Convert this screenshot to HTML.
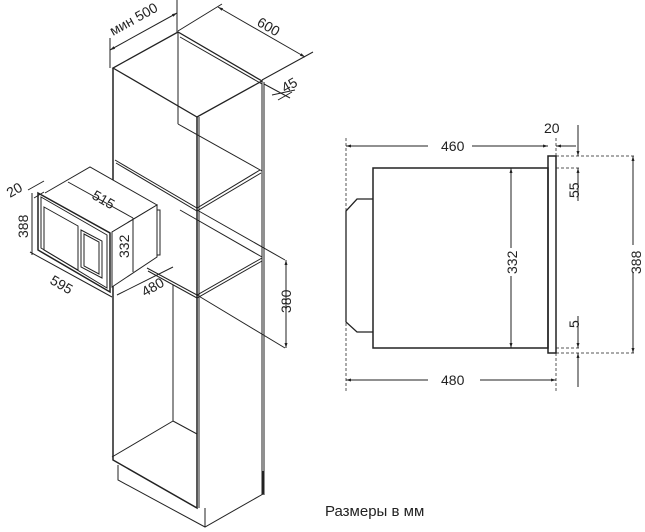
<!DOCTYPE html>
<html><head><meta charset="utf-8"><style>
html,body{margin:0;padding:0;background:#fff;}
svg{display:block;}
text{font-family:"Liberation Sans",sans-serif;fill:#222;}
</style></head><body>
<svg width="645" height="532" viewBox="0 0 645 532" xmlns="http://www.w3.org/2000/svg">
<defs>
<marker id="a" viewBox="0 0 10 10" refX="10" refY="5" markerWidth="7" markerHeight="5" orient="auto-start-reverse"><path d="M0,2 L10,5 L0,8 z" fill="#222"/></marker>
</defs>
<g stroke="#222" fill="none" stroke-width="1">
<path d="M113,68 L197,117 L262,81 L178,32 Z" stroke-width="1.3"/>
<path d="M180,37 L262,84"/>
<path d="M113,68 V460 L197,508 V117" stroke-width="1.5"/>
<path d="M199,117 V508"/>
<path d="M262,81 V495"/><path d="M264,82 V495"/>
<path d="M178,32 V124"/>
<path d="M115,160 L197,208 L260,170 M116,163 L197,211 L261,173"/>
<path d="M178,124 L262,171"/>
<path d="M180,210 L262,257"/>
<path d="M197,210 L285,260"/>
<path d="M147,268 L197,295 L262,258 M148,271 L197,298 L262,261"/>
<path d="M197,295 L285,348"/>
<path d="M173,285 V421 L112,457 M173,421 L197,434"/>
<path d="M118,465 V480 L205,527 L263,494 V471 M205,508 V527"/>
<path d="M110,38 V68 M177,0 V32"/>
<path d="M110,50 L177,13" marker-start="url(#a)" marker-end="url(#a)"/>
<path d="M178,31 L222,4 M262,80 L313,52"/>
<path d="M218,7 L305,57" marker-start="url(#a)" marker-end="url(#a)"/>
<path d="M264,84 L290,98 M272,95 L295,90"/>
<path d="M278,100 L292,92"/>
<path d="M286,260 V348" marker-start="url(#a)" marker-end="url(#a)"/>
<path d="M45,193 L90,167 L157,205 L112,232" fill="#fff"/>
<path d="M112,232 L157,205 V257 L112,287 Z" fill="#fff"/>
<path d="M157,210 H160 V255 H157"/>
<path d="M38,193 L110,233 V292 L38,250 Z" fill="#fff" stroke-width="1.5"/>
<path d="M41,197 L107,235 V288 L41,248 Z"/>
<path d="M44,207 L78,226 V270 L44,250 Z"/>
<path d="M81,230 L102,241 V278 L81,267 Z"/>
<path d="M84,234 L99,242 V274 L84,266 Z"/>
<path d="M133,218 V272"/>
<path d="M68,182 L133,218"/>
<path d="M28,190 L44,181 M34,198 L44,192"/>
<path d="M32,193 V255"/>
<path d="M30,252 L112,297"/>
<path d="M117,295 L173,267"/>
<path d="M346,138 V392 M556,138 V392 M556,156 H636 M556,168 H580 M556,348 H580 M556,353 H636" stroke-dasharray="3,2" stroke="#555"/>
<rect x="373" y="168" width="175" height="180" stroke-width="1.5"/>
<rect x="548" y="156" width="8" height="197" stroke-width="1.5"/>
<path d="M373,199 H357 L346,211 V322 L357,332 H373" stroke-width="1.3"/>
<path d="M346,146 H428 M472,146 H548"/><path d="M360,146 H346" marker-end="url(#a)"/>
<path d="M536,146 H548" marker-end="url(#a)"/><path d="M576,146 H556" marker-end="url(#a)"/>
<path d="M511,168 V248 M511,276 V348"/><path d="M511,180 V168" marker-end="url(#a)"/><path d="M511,336 V348" marker-end="url(#a)"/>
<path d="M346,380 H428 M480,380 H556"/><path d="M360,380 H346" marker-end="url(#a)"/><path d="M542,380 H556" marker-end="url(#a)"/>
<path d="M578,125 V156 M578,168 V201"/><path d="M578,145 V156" marker-end="url(#a)"/><path d="M578,180 V168" marker-end="url(#a)"/>
<path d="M578,316 V348 M578,353 V387"/><path d="M578,337 V348" marker-end="url(#a)"/><path d="M578,365 V353" marker-end="url(#a)"/>
<path d="M633,156 V245 M633,272 V353"/><path d="M633,170 V156" marker-end="url(#a)"/><path d="M633,340 V353" marker-end="url(#a)"/>
</g>
<g font-size="14">
<text x="113" y="36" transform="rotate(-29 113 36)">мин 500</text>
<text x="256" y="25" transform="rotate(30 256 25)">600</text>
<text x="285" y="93" transform="rotate(-30 285 93)">45</text>
<text x="91" y="198" transform="rotate(30 91 198)">515</text>
<text x="10" y="198" transform="rotate(-30 10 198)">20</text>
<text x="28" y="238" transform="rotate(-90 28 238)">388</text>
<text x="129" y="258" transform="rotate(-90 129 258)">332</text>
<text x="49" y="283" transform="rotate(30 49 283)">595</text>
<text x="145" y="297" transform="rotate(-30 145 297)">480</text>
<text x="291" y="313" transform="rotate(-90 291 313)">380</text>
<text x="441" y="151">460</text>
<text x="544" y="133">20</text>
<text x="517" y="274" transform="rotate(-90 517 274)">332</text>
<text x="441" y="385">480</text>
<text x="579" y="198" transform="rotate(-90 579 198)">55</text>
<text x="579" y="328" transform="rotate(-90 579 328)">5</text>
<text x="641" y="274" transform="rotate(-90 641 274)">388</text>
</g>
<text x="325" y="516" font-size="15">Размеры в мм</text>
</svg>
</body></html>
